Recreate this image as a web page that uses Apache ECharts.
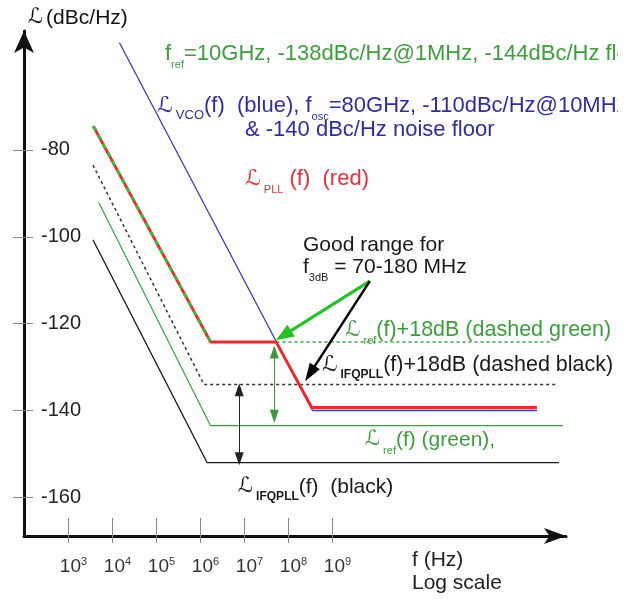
<!DOCTYPE html>
<html>
<head>
<meta charset="utf-8">
<script src="https://cdn.jsdelivr.net/npm/echarts@6/dist/echarts.min.js"></script>
<style>
html,body{margin:0;padding:0;background:#fff;}
#chart{width:633px;height:601px;}
</style>
</head>
<body>
<div id="chart"></div>
<script>
// frequency in Hz, phase noise in dBc/Hz
var decades = [1e3, 1e4, 1e5, 1e6, 1e7, 1e8, 1e9];
var dbTicks = [-160, -140, -120, -100, -80];

var vcoF    = [1.48e4, 3.6e8, 4.57e13];
var vcoDb   = [-55.3, -140, -140];
var pllF    = [3.76e3, 1.74e6, 5.37e7, 3.47e8, 4.57e13];
var pllDb   = [-74.5, -124.2, -124.2, -139.3, -139.3];
var refF    = [5.0e3, 1.74e6, 1.78e14];
var refDb   = [-92.1, -143.5, -143.5];
var ifqF    = [3.7e3, 1.45e6, 1.45e14];
var ifqDb   = [-100.7, -152, -152];
var ifq18F  = [3.7e3, 1.23e6, 1.29e14];
var ifq18Db = [-83.5, -134, -134];
var ref18F  = [3.76e3, 1.74e6, 1.0e14];
var ref18Db = [-74.5, -124.2, -124.2];

// 18 dB gap arrows (vertical) and the "good range" callout arrows
var gapF      = [4.9e7, 7.8e6];
var gapTopDb  = [-126.5, -135.2];
var gapBotDb  = [-141.3, -151.1];
var calloutFrom  = [7.24e9, -110.2];
var calloutGreen = [7.94e7, -122.7];
var calloutBlack = [3.16e8, -131.5];

var FONT = '"Liberation Sans", Arial, Helvetica, sans-serif';
var GREEN = '#3c9e3c', BLUE = '#2e2ea2', RED = '#e8303a', BLACK = '#1a1a1a';

function pts(f, db, a, b){
	var out = [];
	for(var i = (a || 0); i < (b || f.length); i++) out.push([f[i], db[i]]);
	return out;
}
function line(f, db, color, width, type, z, a, b){
	return {
		type: 'line', data: pts(f, db, a, b), symbol: 'none', silent: true,
		animation: false, z: z,
		lineStyle: {color: color, width: width, type: type || 'solid', cap: 'butt'}
	};
}

// rich text helpers for the annotations
function rich(color, size){
	return {
		m : {fontSize: size, lineHeight: 32, verticalAlign: 'middle', fontFamily: FONT, fill: color},
		L : {fontSize: size, lineHeight: 32, verticalAlign: 'middle', fontFamily: '"DejaVu Sans"', fill: color, padding: [0, 3, 0, 0]},
		s : {fontSize: 11, lineHeight: 13, verticalAlign: 'bottom', fontFamily: FONT, fill: color},
		sb: {fontSize: 12, lineHeight: 13, verticalAlign: 'bottom', fontFamily: FONT, fontWeight: 'bold', fill: color},
		sv: {fontSize: 13, lineHeight: 22, verticalAlign: 'bottom', fontFamily: FONT, fill: color}
	};
}
function note(x, y, text, color, size){
	return {
		type: 'text', x: x, y: y, silent: true, z: 20,
		style: {text: text, rich: rich(color, size || 22), fill: color,
			font: (size || 22) + 'px ' + FONT, align: 'left', verticalAlign: 'middle'}
	};
}

var arrowLines = [];
for(var i = 0; i < gapF.length; i++){
	var c = i == 0 ? '#3a9a3a' : '#222';
	arrowLines.push([
		{coord: [gapF[i], gapTopDb[i]], symbol: 'triangle', symbolSize: [9, 13], lineStyle: {color: c, width: 1, type: 'solid'}, itemStyle: {color: c}},
		{coord: [gapF[i], gapBotDb[i]], symbol: 'triangle', symbolSize: [9, 13], itemStyle: {color: c}}
	]);
}
arrowLines.push([
	{coord: calloutFrom, symbol: 'none', lineStyle: {color: '#22c322', width: 3, type: 'solid'}, itemStyle: {color: '#22c322'}},
	{coord: calloutGreen, symbol: 'triangle', symbolSize: [14, 18], itemStyle: {color: '#22c322'}}
]);
arrowLines.push([
	{coord: calloutFrom, symbol: 'none', lineStyle: {color: '#000', width: 2.5, type: 'solid'}, itemStyle: {color: '#000'}},
	{coord: calloutBlack, symbol: 'triangle', symbolSize: [12, 18], itemStyle: {color: '#000'}}
]);

var X_MIN = 100, X_MAX = Math.pow(10, 14.32);
var Y_MIN = -168.9, Y_MAX = -52.6;

var ifqSeries = line(ifqF, ifqDb, BLACK, 1.2, 'solid', 3);
ifqSeries.markLine = {
	silent: true, animation: false, label: {show: false}, emphasis: {disabled: true},
	symbol: ['none', 'triangle'], data: arrowLines
};

var myChart = echarts.init(document.getElementById('chart'));
var option = {
	backgroundColor: '#fff',
	animation: false,
	grid: {left: 24, right: 67, top: 31, bottom: 65, containLabel: false, outerBoundsMode: 'none'},
	xAxis: [{
		type: 'log', logBase: 10, min: X_MIN, max: X_MAX, position: 'bottom',
		axisLine: {show: true, onZero: false, symbol: ['none', 'arrow'], symbolSize: [12, 22],
			lineStyle: {color: '#111', width: 3}},
		axisTick: {show: true, inside: true, length: 18, customValues: decades,
			lineStyle: {color: '#888', width: 1}},
		axisLabel: {show: true, customValues: decades, margin: 20, color: '#333',
			fontFamily: FONT, fontSize: 19, lineHeight: 22,
			formatter: function(v){ return '{b|10}{sup|' + Math.round(Math.log10(v)) + '}'; },
			rich: {
				b: {fontSize: 19, lineHeight: 22, verticalAlign: 'middle', fontFamily: FONT, color: '#333', padding: [0, 0, 0, 11]},
				sup: {fontSize: 11, lineHeight: 12, verticalAlign: 'top', fontFamily: FONT, color: '#333'}
			}},
		splitLine: {show: false}, minorTick: {show: false}
	}, {
		type: 'log', logBase: 10, min: X_MIN, max: X_MAX, position: 'bottom',
		axisLine: {show: false},
		axisTick: {show: true, inside: false, length: 7, customValues: decades,
			lineStyle: {color: '#888', width: 1}},
		axisLabel: {show: false}, splitLine: {show: false}
	}],
	yAxis: [{
		type: 'value', min: Y_MIN, max: Y_MAX, position: 'left',
		axisLine: {show: true, onZero: false, symbol: ['none', 'arrow'], symbolSize: [15, 22],
			lineStyle: {color: '#111', width: 3}},
		axisTick: {show: true, length: 11, customValues: dbTicks, lineStyle: {color: '#888', width: 1}},
		axisLabel: {show: true, inside: true, margin: 17, customValues: dbTicks,
			color: '#222', fontFamily: FONT, fontSize: 20},
		splitLine: {show: false}
	}, {
		type: 'value', min: Y_MIN, max: Y_MAX, position: 'left',
		axisLine: {show: false},
		axisTick: {show: true, inside: true, length: 9, customValues: dbTicks, lineStyle: {color: '#888', width: 1}},
		axisLabel: {show: false}, splitLine: {show: false}
	}],
	series: [
		line(vcoF, vcoDb, '#3c3cb4', 1.3, 'solid', 2),
		ifqSeries,
		line(refF, refDb, '#3aa03a', 1.2, 'solid', 3),
		line(ifq18F, ifq18Db, '#333', 1.5, [3, 3], 3),
		line(ref18F, ref18Db, '#3aa83a', 1.5, [3, 3], 3, 1, 3),
		line(pllF, pllDb, '#ee2a2a', 3, 'solid', 4),
		line(ref18F, ref18Db, '#3cbb3c', 3, [5, 5], 5, 0, 2)
	],
	graphic: [
		note(28, 18, '{L|ℒ}{m|(dBc/Hz)}', '#111', 21),
		note(165, 54, '{m|f}{s|ref}{m|=10GHz, -138dBc/Hz@1MHz, -144dBc/Hz floor}', GREEN, 22),
		note(157, 106, '{L|ℒ}{sv|VCO}{m|(f)  (blue), f}{s|osc}{m|=80GHz, -110dBc/Hz@10MHz}', BLUE, 22),
		note(245, 130, '{m|& -140 dBc/Hz noise floor}', BLUE, 22),
		note(245, 179, '{L|ℒ}{s|PLL}{m| (f)  (red)}', RED, 22),
		note(303, 245, '{m|Good range for}', BLACK, 21),
		note(303, 267, '{m|f}{s|3dB}{m| = 70-180 MHz}', BLACK, 21),
		note(345, 330, '{L|ℒ}{s|ref}{m|(f)+18dB (dashed green)}', GREEN, 21.5),
		note(322, 365, '{L|ℒ}{sb|IFQPLL}{m|(f)+18dB (dashed black)}', BLACK, 21.5),
		note(365, 440, '{L|ℒ}{s|ref}{m|(f) (green),}', GREEN, 21),
		note(238, 487, '{L|ℒ}{sb|IFQPLL}{m|(f)  (black)}', BLACK, 21),
		note(412, 560, '{m|f (Hz)}', '#222', 21),
		note(412, 583, '{m|Log scale}', '#222', 21),
		// the source figure is cropped at its right edge
		{type: 'rect', z: 30, silent: true, shape: {x: 618, y: 0, width: 15, height: 601}, style: {fill: '#fff'}}
	]
};
myChart.setOption(option);
</script>
</body>
</html>
